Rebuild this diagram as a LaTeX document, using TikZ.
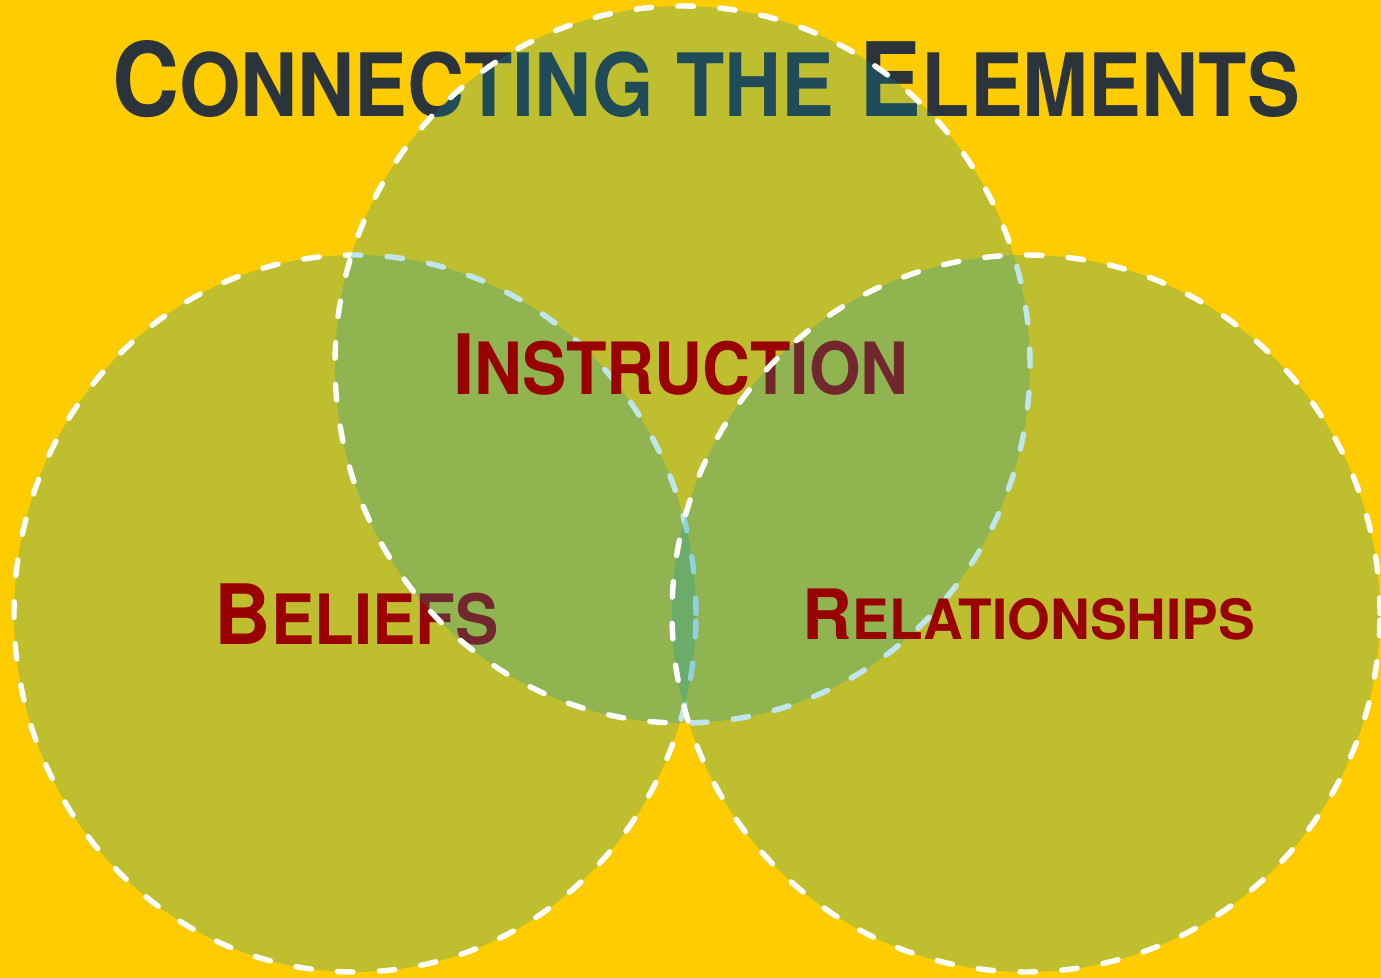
\documentclass[tikz,border=0pt]{standalone}
\usepackage{fontspec}
\setmainfont{TeX Gyre Heros}
\usetikzlibrary{positioning}
\definecolor{bgyellow}{RGB}{255,204,0}
\definecolor{ringfill}{RGB}{0,152,184}
\definecolor{inkgray}{RGB}{43,51,59}
\definecolor{inkred}{RGB}{153,0,0}
% first letter large, the rest as small capitals
\newcommand{\capsword}[3]{#1{\fontsize{#3}{#3}\selectfont #2}}
\tikzset{
  ring/.style={fill=ringfill,fill opacity=0.25,draw=white,line width=3.1pt,
    line cap=round,dash pattern=on 8.8pt off 15pt},
  word/.style={anchor=base,inner sep=0pt,text=inkred}
}

\begin{document}
\begin{tikzpicture}[x=0.2mm,y=0.2mm]
  % background
  \fill[bgyellow] (0,0) rectangle (1381,978);
  \useasboundingbox (0,0) rectangle (1381,978);
  \clip (0,0) rectangle (1381,978);

  % heading
  \node[word,text=inkgray,font=\bfseries\fontsize{58.4}{60}\selectfont] (title) at (706,861)
    {\scalebox{0.905}[1]{\capsword{C}{ONNECTING THE}{49.7} \capsword{E}{LEMENTS}{49.7}}};

  % the three rings, each word laid down before the next ring
  \draw[ring] (355,364.5) ellipse [x radius=341, y radius=358.5];
  \node[word,font=\bfseries\fontsize{47.4}{48}\selectfont] (beliefs) at (357,333)
    {\scalebox{0.937}[1]{\capsword{B}{ELIEFS}{39.5}}};

  \draw[ring] (682.5,613.5) ellipse [x radius=347.5, y radius=358.5];
  \node[word,font=\bfseries\fontsize{47.4}{48}\selectfont] (instr) at (681,583)
    {\scalebox{0.92}[1]{\capsword{I}{NSTRUCTION}{41}}};

  \draw[ring] (1026,364.5) ellipse [x radius=354, y radius=358.5];
  \node[word,font=\bfseries\fontsize{39.5}{40}\selectfont] (relations) at (1029,338)
    {\scalebox{0.99}[1]{\capsword{R}{ELATIONSHIPS}{31.6}}};
\end{tikzpicture}
\end{document}
